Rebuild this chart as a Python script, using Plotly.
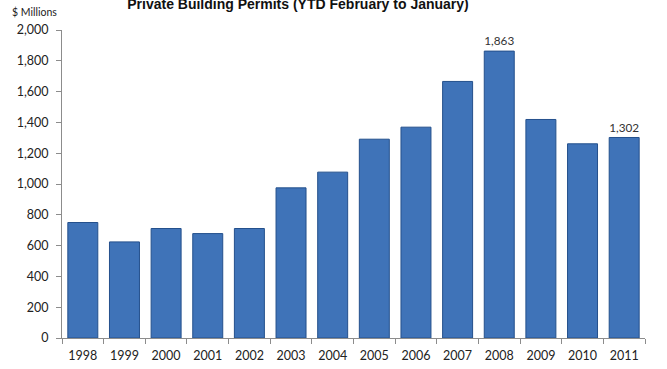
import plotly.graph_objects as go

years = ["1998", "1999", "2000", "2001", "2002", "2003", "2004", "2005",
         "2006", "2007", "2008", "2009", "2010", "2011"]
values = [750, 624, 711, 678, 711, 975, 1077, 1291, 1369, 1666, 1863, 1419, 1261, 1302]
labeled_years = ["2008", "2011"]
y_ticks = [0, 200, 400, 600, 800, 1000, 1200, 1400, 1600, 1800, 2000]

texts = [f"{v:,}" if y in labeled_years else "" for y, v in zip(years, values)]

FONT = "Lato, Open Sans, sans-serif"

fig = go.Figure()
fig.add_trace(go.Bar(
    x=years, y=values, text=texts, textposition="outside",
    textfont=dict(family=FONT, size=12, color="#333333"),
    marker=dict(color="#3F73B8", line=dict(color="#24508C", width=1)),
    width=0.72, cliponaxis=False,
))

fig.update_layout(
    width=667, height=369,
    margin=dict(l=62, r=22, t=30, b=31),
    plot_bgcolor="white", paper_bgcolor="white",
    showlegend=False,
    title=dict(text="<b>Private Building Permits (YTD February to January)</b>",
               x=298 / 667, xanchor="center", y=1 - 4 / 369, yanchor="middle",
               font=dict(family="Liberation Sans, Arial, sans-serif", size=14, color="#111111")),
    annotations=[dict(text="$ Millions", xref="paper", yref="paper",
                      x=-52 / 583, xanchor="left", y=1 + (30 - 12) / 308, yanchor="middle",
                      font=dict(family=FONT, size=10.5, color="#222222"),
                      showarrow=False)],
)

fig.update_xaxes(
    type="category", showline=True, linecolor="#8c8c8c", linewidth=1,
    ticks="outside", tickson="boundaries", ticklen=5, tickcolor="#8c8c8c",
    tickfont=dict(family=FONT, size=12.5, color="#222222"),
    ticklabelstandoff=6, automargin=False,
    showgrid=False,
)
fig.update_yaxes(
    range=[0, 2000], tickvals=y_ticks, tickformat=",", showline=True,
    linecolor="#8c8c8c", linewidth=1, ticks="outside", ticklen=5, tickcolor="#8c8c8c",
    tickfont=dict(family=FONT, size=12.5, color="#222222"),
    ticklabelstandoff=5, automargin=False,
    showgrid=False, zeroline=False,
)

fig.write_html("out.html")
